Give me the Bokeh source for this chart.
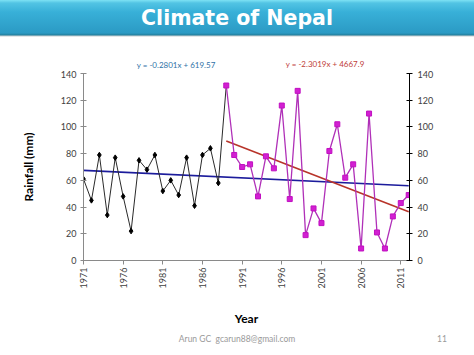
from math import pi
from bokeh.plotting import figure
from bokeh.models import Range1d, LinearAxis, FixedTicker, Div
from bokeh.layouts import column
from bokeh.embed import file_html
from bokeh.resources import INLINE

# ---------------- data ----------------
years_a = list(range(1971, 1990))
rain_a = [61, 45, 79, 34, 77, 48, 22, 75, 68, 79, 52, 60, 49, 77, 41, 79, 84, 58, 131]
years_b = list(range(1989, 2013))
rain_b = [131, 79, 70, 72, 48, 78, 69, 116, 46, 127, 19, 39, 28, 82, 102, 62,
          72, 9, 110, 21, 9, 33, 43, 49]
trend_all = {"slope": -0.2801, "intercept": 619.57, "x0": 1971, "x1": 2012}
trend_b = {"slope": -2.3019, "intercept": 4667.9, "x0": 1989, "x1": 2012}
x_ticks = [1971, 1976, 1981, 1986, 1991, 1996, 2001, 2006, 2011]
y_ticks = [0, 20, 40, 60, 80, 100, 120, 140]
title_text = "Climate of Nepal"
eq_all_text = "y = -0.2801x + 619.57"
eq_b_text = "y = -2.3019x + 4667.9"
y_label = "Rainfall (mm)"
x_label = "Year"
footer_text = "Arun GC&nbsp; gcarun88@gmail.com"
page_text = "11"

FONT = "Lato"
W = 474
BANNER_H = 37
EQ_H = 33
MAIN_H = 262
FOOT_H = 355 - BANNER_H - EQ_H - MAIN_H


def abs_text(txt, cx, cy, size, col, weight="normal"):
    return ('<div style="position:absolute;left:%spx;top:%spx;transform:translate(-50%%,-50%%);'
            'white-space:nowrap;font-family:Lato;font-size:%s;color:%s;font-weight:%s;'
            'line-height:1;">%s</div>') % (cx, cy, size, col, weight, txt)


# ---------------- banner ----------------
banner = Div(
    text=(
        '<div style="width:%dpx;height:%dpx;box-sizing:border-box;'
        'background:linear-gradient(to bottom,#7ee2f4 0px,#52c4e4 3px,#38b0d8 12px,#2b9ac4 33px,#23809e 35px,#c8cdd0 36px,#ffffff 37px);'
        'color:#ffffff;font-family:\'DejaVu Sans\';font-weight:bold;font-size:20.5px;'
        'text-align:center;line-height:%dpx;">%s</div>'
    ) % (W, BANNER_H, BANNER_H, title_text),
    width=W, height=BANNER_H, margin=0,
)

# ---------------- equations strip ----------------
eq_div = Div(
    text='<div style="position:relative;width:%dpx;height:%dpx;">%s%s</div>' % (
        W, EQ_H,
        abs_text(eq_all_text, 176, 65 - BANNER_H, "8px", "#2f72a6"),
        abs_text(eq_b_text, 325, 63.5 - BANNER_H, "8px", "#c0403a")),
    width=W, height=EQ_H, margin=0,
)

# ---------------- main chart ----------------
p = figure(width=W, height=MAIN_H, x_range=Range1d(1971, 2012.1), y_range=Range1d(0, 140),
           output_backend="svg", toolbar_location=None, margin=0,
           min_border_left=83, min_border_right=65, min_border_top=3, min_border_bottom=72)
p.outline_line_color = None
p.grid.visible = False

# trend lines
for tr, col in ((trend_all, "#1c1c9c"), (trend_b, "#b8342a")):
    xs = [tr["x0"], tr["x1"]]
    ys = [tr["slope"] * x + tr["intercept"] for x in xs]
    p.line(xs, ys, line_color=col, line_width=1.6)

# series
p.line(years_a, rain_a, line_color="#2a2a2a", line_width=1)
p.scatter(years_a[:-1], rain_a[:-1], marker="diamond", size=5.5, fill_color="#000000",
          line_color="#000000")
p.line(years_b, rain_b, line_color="#b030b8", line_width=1.3)
p.scatter(years_b, rain_b, marker="square", size=5, fill_color="#d21fd2",
          line_color="#c010c0")

# axes
def style_axis(ax, line_col):
    ax.axis_line_color = line_col
    ax.major_tick_line_color = line_col
    ax.major_tick_in = 3
    ax.major_tick_out = 3
    ax.minor_tick_line_color = None
    ax.major_label_text_font = FONT
    ax.major_label_text_font_size = "9px"
    ax.major_label_text_color = "#404040"
    ax.axis_label_text_font = FONT
    ax.axis_label_text_font_style = "bold"
    ax.axis_label_text_font_size = "12px"
    ax.axis_label_text_color = "#000000"

p.yaxis.ticker = FixedTicker(ticks=y_ticks)
style_axis(p.yaxis[0], "#8a8a8a")
p.yaxis.major_label_standoff = 4
p.yaxis.axis_label = y_label
p.yaxis.axis_label_standoff = 22

right = LinearAxis(ticker=FixedTicker(ticks=y_ticks))
style_axis(right, "#000000")
right.major_label_standoff = 5
p.add_layout(right, "right")

p.xaxis.ticker = FixedTicker(ticks=x_ticks)
style_axis(p.xaxis[0], "#8a8a8a")
p.xaxis.major_tick_in = 0
p.xaxis.major_tick_out = 4
p.xaxis.major_label_orientation = pi / 2
p.xaxis.major_label_standoff = 3
p.xaxis.axis_label = x_label
p.xaxis.axis_label_standoff = 20

# ---------------- footer ----------------
foot_top = BANNER_H + EQ_H + MAIN_H
footer = Div(
    text='<div style="position:relative;width:%dpx;height:%dpx;">%s%s</div>' % (
        W, FOOT_H,
        abs_text(footer_text, 237, 339 - foot_top, "8.5px", "#9a9a9a"),
        abs_text(page_text, 442, 339 - foot_top, "8.5px", "#9a9a9a")),
    width=W, height=FOOT_H, margin=0,
)

layout = column(banner, eq_div, p, footer, spacing=0, margin=0)
open("out.html", "w").write(file_html(layout, INLINE))
